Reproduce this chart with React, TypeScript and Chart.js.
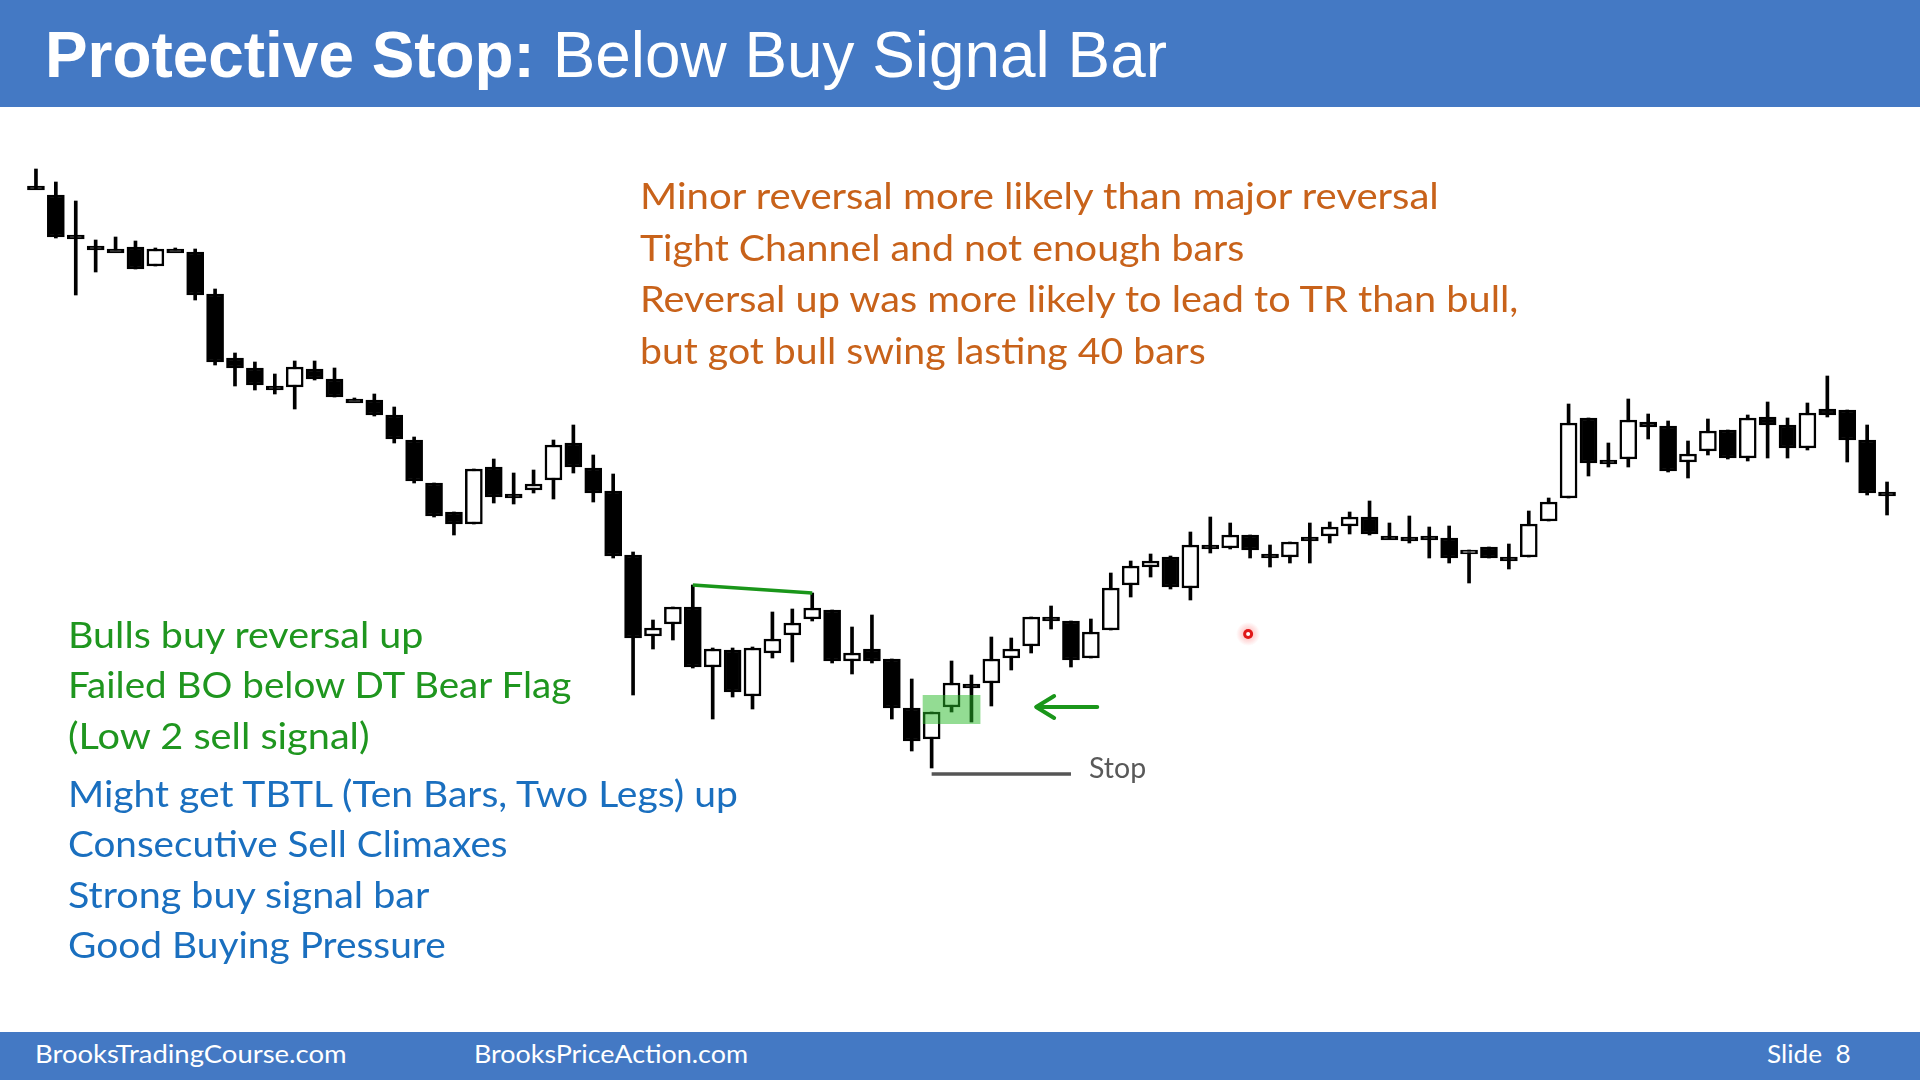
import React, { useEffect, useLayoutEffect, useRef } from 'react';
import { Chart, registerables } from 'chart.js';

Chart.register(...registerables);

// ---- Candle data (price units) ----
const opens = [814,805,765,754,751,753,734,751,748,706,642,632,614,613,631,621,601,600,585,560,517,488,476,533,506,510,520,557,532,509,445,364,376,393,333,350,304,347,365,381,390,339,351,341,292,261,293,316,317,342,354,383,379,342,370,415,433,443,412,455,452,465,446,443,463,464,474,483,464,463,464,462,446,453,443,443,479,502,582,540,541,578,574,538,549,570,542,583,575,552,591,590,560,508];
const highs = [831,818,799,760,763,759,752,752,751,711,647,638,626,639,639,632,602,606,593,563,517,488,531,541,527,530,560,575,545,526,448,380,393,415,352,352,353,388,391,407,390,373,385,341,321,288,339,325,363,362,383,394,379,381,427,439,446,444,468,483,477,465,455,458,477,478,488,499,477,484,473,474,450,453,456,489,502,596,582,557,601,586,579,559,581,570,585,598,582,597,624,590,575,518];
const lows = [811,762,705,728,750,731,734,750,700,635,614,610,606,591,620,603,600,584,557,517,483,465,476,497,496,507,501,527,498,442,305,351,360,332,281,303,291,342,338,379,337,326,337,281,249,232,288,278,294,330,347,371,333,342,370,403,423,411,400,447,451,442,433,437,437,457,466,465,461,457,442,437,417,442,431,443,479,502,524,533,533,561,528,522,545,541,539,542,542,550,583,538,505,485];
const closes = [814,763,765,754,751,731,751,751,705,638,632,615,614,633,621,603,601,585,561,519,484,476,531,503,506,516,555,533,507,444,362,372,393,333,351,308,352,361,377,392,339,347,339,292,259,288,317,316,341,351,383,383,340,368,412,434,439,413,455,455,465,450,446,458,463,473,483,466,464,463,464,442,450,442,443,476,498,577,537,540,580,573,529,546,569,542,582,575,552,587,585,560,507,508];

// Double-top bear flag line (bar index, price) and protective stop line
const dtLineBars = [33, 39];
const dtLinePrices = [415, 407];
const stopBars = [45, 52];
const stopPrices = [226, 226];
// Buy signal area (bar range and price range)
const signalBars = [45, 47];
const signalPrices = [305, 276];

const orangeLines = [
  'Minor reversal more likely than major reversal',
  'Tight Channel and not enough bars',
  'Reversal up was more likely to lead to TR than bull,',
  'but got bull swing lasting 40 bars',
];
const greenLines = ['Bulls buy reversal up', 'Failed BO below DT Bear Flag', '(Low 2 sell signal)'];
const blueLines = [
  'Might get TBTL (Ten Bars, Two Legs) up',
  'Consecutive Sell Climaxes',
  'Strong buy signal bar',
  'Good Buying Pressure',
];

const BLUE_BAR = '#4479C4';
const ORANGE = '#C8621A';
const GREEN_TXT = '#1F961F';
const BLUE_TXT = '#1A6FBF';
const GREEN_MARK = '#1A961A';

const CAL = "Lato, 'Open Sans', sans-serif";
const ARIAL = "'Liberation Sans', Arial, sans-serif";

type Part = { t: string; w?: string };

function SlideText(props: {
  parts: Part[];
  x: number;
  baseline: number;
  width?: number;
  size: number;
  color: string;
  family: string;
}) {
  const { parts, x, baseline, width, size, color, family } = props;
  const ref = useRef<HTMLDivElement>(null);
  useLayoutEffect(() => {
    const el = ref.current;
    if (!el) return;
    const ctx = document.createElement('canvas').getContext('2d')!;
    ctx.font = `${size}px ${family}`;
    const m = ctx.measureText('Hg');
    const A = (m as any).fontBoundingBoxAscent ?? size * 0.8;
    const D = (m as any).fontBoundingBoxDescent ?? size * 0.2;
    el.style.top = `${baseline - (size + A - D) / 2}px`;
    if (width) {
      const w = el.offsetWidth;
      if (w > 0) el.style.transform = `scaleX(${width / w})`;
    }
  }, [parts, x, baseline, width, size, family]);
  return (
    <div
      ref={ref}
      style={{
        position: 'absolute',
        left: x,
        top: baseline - size,
        fontSize: size,
        lineHeight: `${size}px`,
        fontFamily: family,
        color,
        whiteSpace: 'pre',
        transformOrigin: '0 0',
      }}
    >
      {parts.map((p, i) => (
        <span key={i} style={{ fontWeight: (p.w as any) || 'normal' }}>
          {p.t}
        </span>
      ))}
    </div>
  );
}

const slidePlugin = {
  id: 'slideMarks',
  afterDatasetsDraw(chart: any) {
    const { ctx, scales } = chart;
    const x = scales.x;
    const y = scales.y;
    const step = x.getPixelForValue(1) - x.getPixelForValue(0);
    const px = (b: number) => x.getPixelForValue(0) + b * step;
    ctx.save();
    // signal bar highlight
    const half = step * 0.45;
    const bx0 = x.getPixelForValue(signalBars[0]) - half;
    const bx1 = x.getPixelForValue(signalBars[1]) + half;
    const by0 = y.getPixelForValue(signalPrices[0]);
    const by1 = y.getPixelForValue(signalPrices[1]);
    ctx.fillStyle = 'rgba(40,185,40,0.5)';
    ctx.fillRect(bx0, by0, bx1 - bx0, by1 - by0);

    // green arrow pointing at the signal
    const ay = y.getPixelForValue(293);
    const tip = px(50.25);
    const tail = px(53.32);
    ctx.strokeStyle = GREEN_MARK;
    ctx.lineWidth = 4;
    ctx.lineCap = 'round';
    ctx.lineJoin = 'round';
    ctx.beginPath();
    ctx.moveTo(tail, ay);
    ctx.lineTo(tip + 2, ay);
    ctx.moveTo(tip + 18, ay - 11);
    ctx.lineTo(tip, ay);
    ctx.lineTo(tip + 18, ay + 11);
    ctx.stroke();

    // red pointer dot
    const rx = px(60.9);
    const ry = y.getPixelForValue(366);
    const g = ctx.createRadialGradient(rx, ry, 2, rx, ry, 12);
    g.addColorStop(0, 'rgba(255,60,60,0.35)');
    g.addColorStop(1, 'rgba(255,60,60,0)');
    ctx.fillStyle = g;
    ctx.beginPath();
    ctx.arc(rx, ry, 12, 0, Math.PI * 2);
    ctx.fill();
    ctx.fillStyle = '#E01818';
    ctx.beginPath();
    ctx.arc(rx, ry, 5, 0, Math.PI * 2);
    ctx.fill();
    ctx.fillStyle = '#ffffff';
    ctx.beginPath();
    ctx.arc(rx, ry, 2, 0, Math.PI * 2);
    ctx.fill();
    ctx.restore();
  },
};

function CandleChart() {
  const canvasRef = useRef<HTMLCanvasElement>(null);
  useEffect(() => {
    const canvas = canvasRef.current;
    if (!canvas) return;
    const labels = opens.map((_, i) => `${i + 1}`);
    const sparse = (bars: number[], vals: number[]) =>
      labels.map((_, i) => {
        const k = bars.indexOf(i);
        return k >= 0 ? vals[k] : null;
      });
    const chart = new Chart(canvas, {
      type: 'bar',
      data: {
        labels,
        datasets: [
          {
            type: 'line',
            data: sparse(dtLineBars, dtLinePrices),
            borderColor: GREEN_MARK,
            borderWidth: 3.5,
            pointRadius: 0,
            spanGaps: true,
            order: 0,
          } as any,
          {
            type: 'line',
            data: sparse(stopBars, stopPrices),
            borderColor: '#555555',
            borderWidth: 3.5,
            pointRadius: 0,
            spanGaps: true,
            order: 0,
          } as any,
          {
            type: 'bar',
            data: opens.map((o, i) => [o, closes[i]]),
            backgroundColor: opens.map((o, i) => (closes[i] > o ? '#ffffff' : '#000000')),
            borderColor: '#000000',
            borderWidth: 2.5,
            borderSkipped: false,
            barThickness: 17,
            minBarLength: 4,
            grouped: false,
            order: 1,
          } as any,
          {
            type: 'bar',
            data: lows.map((l, i) => [l, highs[i]]),
            backgroundColor: '#000000',
            borderWidth: 0,
            barThickness: 3,
            grouped: false,
            order: 2,
          } as any,
        ],
      },
      options: {
        animation: false,
        responsive: false,
        devicePixelRatio: 1,
        layout: { padding: { left: 26, right: 23, top: 0, bottom: 0 } },
        plugins: { legend: { display: false }, tooltip: { enabled: false }, title: { display: false } },
        scales: {
          x: { type: 'category', display: false, offset: true, grid: { display: false } },
          y: { type: 'linear', display: false, min: -80, max: 1000, grid: { display: false } },
        },
      },
      plugins: [slidePlugin],
    });
    return () => chart.destroy();
  }, []);
  return <canvas ref={canvasRef} width={1920} height={1080} style={{ position: 'absolute', left: 0, top: 0 }} />;
}

export default function App() {
  const orangeBase = [209, 261, 312, 364];
  const orangeW = [799, 604, 878, 566];
  const greenBase = [648, 698, 749];
  const greenW = [355, 503, 302];
  const blueBase = [807, 857, 908, 958];
  const blueW = [670, 440, 361, 378];
  return (
    <div style={{ position: 'absolute', left: 0, top: 0, width: 1920, height: 1080, background: '#ffffff', overflow: 'hidden' }}>
      <CandleChart />
      <div style={{ position: 'absolute', left: 0, top: 0, width: 1920, height: 107, background: BLUE_BAR }} />
      <SlideText
        parts={[{ t: 'Protective Stop:', w: 'bold' }, { t: ' Below Buy Signal Bar' }]}
        x={45}
        baseline={77}
        width={1122}
        size={64}
        color="#ffffff"
        family={ARIAL}
      />
      {orangeLines.map((t, i) => (
        <SlideText key={'o' + i} parts={[{ t }]} x={640} baseline={orangeBase[i]} width={orangeW[i]} size={36} color={ORANGE} family={CAL} />
      ))}
      {greenLines.map((t, i) => (
        <SlideText key={'g' + i} parts={[{ t }]} x={68} baseline={greenBase[i]} width={greenW[i]} size={36} color={GREEN_TXT} family={CAL} />
      ))}
      {blueLines.map((t, i) => (
        <SlideText key={'b' + i} parts={[{ t }]} x={68} baseline={blueBase[i]} width={blueW[i]} size={36} color={BLUE_TXT} family={CAL} />
      ))}
      <SlideText parts={[{ t: 'Stop' }]} x={1089} baseline={778} width={57} size={28} color="#595959" family={CAL} />
      <div style={{ position: 'absolute', left: 0, top: 1032, width: 1920, height: 48, background: BLUE_BAR }} />
      <SlideText parts={[{ t: 'BrooksTradingCourse.com' }]} x={35} baseline={1063} width={312} size={25} color="#ffffff" family={CAL} />
      <SlideText parts={[{ t: 'BrooksPriceAction.com' }]} x={474} baseline={1063} width={274} size={25} color="#ffffff" family={CAL} />
      <SlideText parts={[{ t: 'Slide  8' }]} x={1767} baseline={1063} width={84} size={25} color="#ffffff" family={CAL} />
    </div>
  );
}
